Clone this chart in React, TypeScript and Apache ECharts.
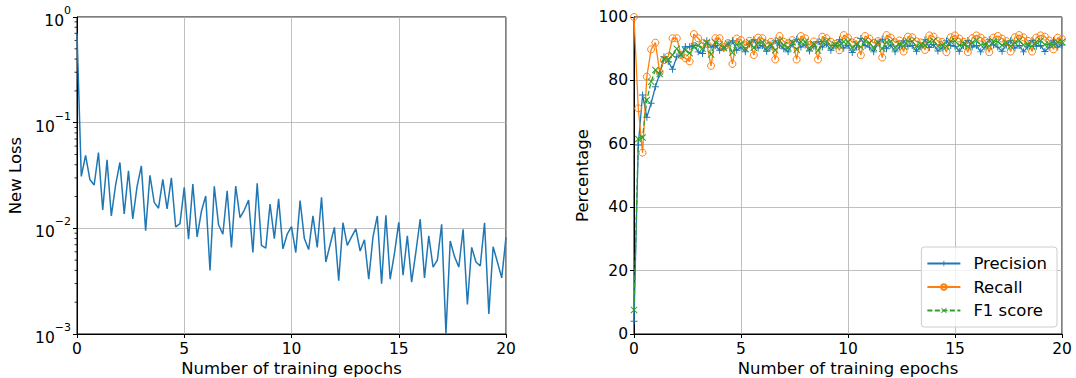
import React, { useEffect, useRef } from "react";
import * as echarts from "echarts";

// Validation is run every 0.2 epoch
const EPOCH_STEP = 0.2;

const lossValues = [
  0.7, 0.031, 0.049, 0.029, 0.0257, 0.052, 0.0149, 0.0444, 0.0131, 0.0257,
  0.042, 0.0137, 0.035, 0.0123, 0.0248, 0.039, 0.0095, 0.0318, 0.0176, 0.0155,
  0.029, 0.0153, 0.03, 0.0103, 0.0111, 0.0244, 0.0079, 0.0263, 0.0083, 0.0145,
  0.0202, 0.004, 0.025, 0.0108, 0.0088, 0.0226, 0.0066, 0.0251, 0.0126, 0.0149,
  0.0185, 0.0059, 0.0267, 0.0069, 0.0065, 0.017, 0.008, 0.019, 0.0064, 0.0088,
  0.0104, 0.0059, 0.0183, 0.008, 0.0063, 0.0131, 0.0066, 0.0197, 0.0048, 0.007,
  0.0102, 0.0032, 0.0113, 0.0069, 0.0083, 0.0099, 0.0061, 0.0078, 0.0033, 0.0083,
  0.0131, 0.003, 0.0133, 0.0033, 0.0058, 0.0114, 0.0036, 0.0085, 0.0031, 0.006,
  0.0122, 0.0034, 0.0085, 0.0043, 0.005, 0.0109, 0.00101, 0.0076, 0.0054, 0.0043,
  0.0098, 0.0019, 0.0066, 0.0048, 0.0044, 0.0113, 0.00155, 0.0067, 0.0048, 0.0034,
  0.0082,
];

const precision = [
  4, 59.6, 75.4, 68.4, 72.8, 78, 82, 87.5, 86, 83.5,
  87.5, 88, 90.6, 90.6, 91, 89, 88.5, 92.5, 90.5, 91,
  89.5, 90, 91.5, 92.5, 89.5, 90.5, 89, 91.5, 92.8, 90.2,
  91, 89.2, 90.5, 92.5, 91.2, 90, 89, 91.5, 93, 90.5,
  91.2, 89.3, 90.8, 92.3, 90.5, 91.5, 89.5, 91, 92.8, 90.2,
  91, 88.8, 90.5, 93.2, 91, 90.5, 89, 91.8, 93, 90,
  91.2, 89, 90.5, 92.5, 90.8, 91, 89.2, 90.6, 92.8, 90.4,
  91.3, 89.3, 90.2, 92.5, 91, 90.8, 89.2, 91, 92.6, 90.5,
  91, 89, 90.5, 92.8, 91.2, 90.5, 89.2, 91.2, 92.5, 90.2,
  91, 89, 90.6, 92.6, 90.8, 91, 89.1, 90.5, 92.7, 90.5,
  91.2,
];

const recall = [
  100, 71.2, 57.2, 81.2, 89.8, 91.9, 82.7, 86.4, 87.5, 93.3,
  93.3, 88, 87, 86, 94.6, 93.3, 91.7, 91.5, 84.6, 93.3,
  93.3, 90.5, 91.8, 85.2, 93.2, 92.7, 91, 92.5, 88, 93.5,
  93.3, 91.5, 92.2, 86.6, 94, 92.2, 91.7, 92.7, 86.6, 94,
  93.3, 91.2, 92.3, 86.6, 93.8, 93.3, 92.2, 91.5, 89.5, 94.3,
  93.5, 92, 92.5, 88, 94, 93.2, 91.8, 92.4, 87.2, 94.3,
  93.5, 92, 92.6, 89.1, 93.8, 93.6, 92.3, 92, 89.6, 94.2,
  93.8, 92.4, 92.2, 88.9, 93.6, 94.2, 93.2, 92.2, 88.9, 93.3,
  94.2, 93.5, 92.5, 88.9, 93.5, 94, 93.2, 92.4, 89.1, 93.6,
  94.3, 93.6, 92.5, 89.1, 93.5, 94.2, 93.8, 92.6, 89.8, 93.5,
  93,
];

const f1Score = [
  7.6, 61.5, 62, 73.8, 79.6, 83.3, 82, 86.7, 86.5, 88,
  90, 88, 89.5, 88.6, 90.8, 91, 90, 92, 88.2, 92,
  91.3, 90.2, 91.6, 88.8, 91.3, 91.6, 90, 92, 90.3, 91.8,
  92.1, 90.3, 91.3, 89.5, 92.5, 91.1, 90.3, 92, 89.7, 92.2,
  92.2, 90.2, 91.5, 89.4, 92.1, 92.4, 90.8, 91.2, 91.1, 92.2,
  92.2, 90.3, 91.5, 90.5, 92.5, 91.8, 90.3, 92, 90, 92,
  92.3, 90.4, 91.5, 90.8, 92.3, 92.3, 90.7, 91.3, 91.1, 92.2,
  92.5, 90.8, 91.2, 90.7, 92.3, 92.4, 91.1, 91.6, 90.7, 91.9,
  92.6, 91.2, 91.5, 90.8, 92.3, 92.2, 91.1, 91.8, 90.8, 91.9,
  92.6, 91.2, 91.5, 90.8, 92.1, 92.5, 91.3, 91.5, 91.2, 92,
  92.1,
];

// exponent shown for each decade tick of the log axis
const logTickExponents: Record<string, string> = {
  "1": "0",
  "0.1": "−1",
  "0.01": "−2",
  "0.001": "−3",
};

const BLUE = "#1f77b4";
const ORANGE = "#ff7f0e";
const GREEN = "#2ca02c";
const FONT = "DejaVu Sans";

const PLUS = "path://M4.3,0H5.7V4.3H10V5.7H5.7V10H4.3V5.7H0V4.3H4.3Z";
const CROSS = "path://M0,1L1,0L5,4L9,0L10,1L6,5L10,9L9,10L5,6L1,10L0,9L4,5Z";

const toPairs = (arr: number[]) =>
  arr.map((v, i) => [Number((i * EPOCH_STEP).toFixed(1)), v]);

// minor tick positions of the log axis: 2..9 × each decade
const minorTicks: number[] = [];
[0.001, 0.01, 0.1].forEach((d) => {
  for (let k = 2; k <= 9; k++) minorTicks.push(Number((k * d).toPrecision(3)));
});

export default function App() {
  const ref = useRef<HTMLDivElement>(null);
  useEffect(() => {
    if (!ref.current) return;
    const chart = echarts.init(ref.current, undefined, { renderer: "svg" });
    const TICK_FS = 15.5;
    const axisLabel = { color: "#000", fontFamily: FONT, fontSize: TICK_FS };
    const nameText = { color: "#000", fontFamily: FONT, fontSize: 16.5 };
    const axisLine = { show: true, lineStyle: { color: "#000", width: 1 } };
    const axisTick = { show: true, inside: false, length: 4, lineStyle: { color: "#000", width: 1 } };
    const splitLine = { show: true, lineStyle: { color: "#b0b0b0", width: 0.8 } };
    const xCommon = {
      type: "value",
      min: 0,
      max: 20,
      interval: 5,
      name: "Number of training epochs",
      nameLocation: "middle",
      nameGap: 26,
      nameMoveOverlap: false,
      nameTextStyle: nameText,
      axisLabel: { ...axisLabel, margin: 7 },
      axisLine,
      axisTick,
      splitLine,
    };
    const gridCommon = {
      top: 17,
      bottom: 44,
      show: true,
      borderColor: "#000",
      borderWidth: 1,
      backgroundColor: "transparent",
      containLabel: false,
      outerBoundsMode: "none",
    };
    chart.setOption({
      animation: false,
      backgroundColor: "#fff",
      grid: [
        { ...gridCommon, left: 77, right: 570 },
        { ...gridCommon, left: 634, right: 14 },
      ],
      xAxis: [
        { ...xCommon, gridIndex: 0 },
        { ...xCommon, gridIndex: 1 },
      ],
      yAxis: [
        {
          gridIndex: 0,
          type: "log",
          logBase: 10,
          min: 0.001,
          max: 1,
          name: "New Loss",
          nameLocation: "middle",
          nameGap: 53,
          nameMoveOverlap: false,
          nameTextStyle: nameText,
          axisLabel: {
            ...axisLabel,
            margin: 6,
            formatter: (v: number) => {
              const e = logTickExponents[String(v)];
              return e ? `{b|10}{s|${e}}` : "";
            },
            rich: {
              b: { fontFamily: FONT, fontSize: TICK_FS, color: "#000", lineHeight: 24, verticalAlign: "bottom" },
              s: { fontFamily: FONT, fontSize: 11, color: "#000", lineHeight: 24, verticalAlign: "top" },
            },
          },
          axisLine,
          axisTick,
          splitLine,
          minorTick: { show: false },
        },
        {
          gridIndex: 1,
          type: "value",
          min: 0,
          max: 100,
          interval: 20,
          name: "Percentage",
          nameLocation: "middle",
          nameGap: 43,
          nameMoveOverlap: false,
          nameTextStyle: nameText,
          axisLabel: { ...axisLabel, margin: 6 },
          axisLine,
          axisTick,
          splitLine,
        },
      ],
      legend: {
        data: ["Precision", "Recall", "F1 score"],
        orient: "vertical",
        right: 19,
        bottom: 51,
        padding: [8, 10, 8, 5],
        itemGap: 6.5,
        itemWidth: 33,
        itemHeight: 7,
        backgroundColor: "rgba(255,255,255,0.8)",
        borderColor: "#cccccc",
        borderWidth: 1,
        borderRadius: 3,
        textStyle: { color: "#000", fontFamily: FONT, fontSize: 16.5, padding: [0, 0, 0, 8] },
      },
      series: [
        {
          name: "New Loss",
          type: "line",
          xAxisIndex: 0,
          yAxisIndex: 0,
          data: toPairs(lossValues),
          showSymbol: false,
          symbol: "none",
          lineStyle: { color: BLUE, width: 1.5 },
          itemStyle: { color: BLUE },
          silent: true,
        },
        {
          name: "minor ticks",
          type: "custom",
          xAxisIndex: 0,
          yAxisIndex: 0,
          silent: true,
          clip: false,
          data: minorTicks.map((v) => [0, v]),
          renderItem: (_p: any, api: any) => {
            const pt = api.coord([0, api.value(1)]);
            return {
              type: "line",
              shape: { x1: pt[0] - 2.5, y1: pt[1], x2: pt[0], y2: pt[1] },
              style: { stroke: "#000", lineWidth: 0.8 },
            };
          },
        },
        {
          name: "Precision",
          type: "line",
          xAxisIndex: 1,
          yAxisIndex: 1,
          data: toPairs(precision),
          symbol: PLUS,
          symbolSize: 7,
          showAllSymbol: true,
          lineStyle: { color: BLUE, width: 1.3 },
          itemStyle: { color: BLUE },
        },
        {
          name: "Recall",
          type: "line",
          xAxisIndex: 1,
          yAxisIndex: 1,
          data: toPairs(recall),
          symbol: "circle",
          symbolSize: 7,
          showAllSymbol: true,
          lineStyle: { color: ORANGE, width: 1.3 },
          itemStyle: { color: "rgba(255,255,255,0)", borderColor: ORANGE, borderWidth: 1 },
        },
        {
          name: "F1 score",
          type: "line",
          xAxisIndex: 1,
          yAxisIndex: 1,
          data: toPairs(f1Score),
          symbol: CROSS,
          symbolSize: 7,
          showAllSymbol: true,
          lineStyle: { color: GREEN, width: 1.3, type: [5, 2.5] },
          itemStyle: { color: GREEN },
        },
      ],
    });
    return () => chart.dispose();
  }, []);
  return (
    <div
      ref={ref}
      style={{ position: "absolute", left: 0, top: 0, width: 1076, height: 378 }}
    />
  );
}
